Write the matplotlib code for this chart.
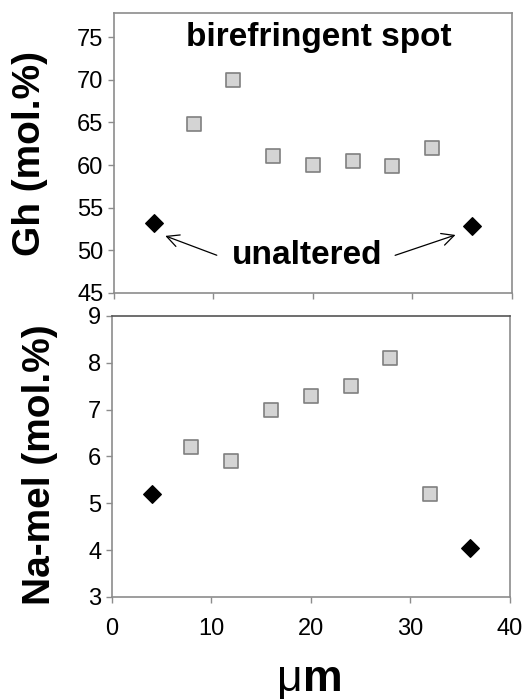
import matplotlib
matplotlib.use('Agg')
import matplotlib.pyplot as plt

plt.rcParams['font.family'] = ['Liberation Sans', 'DejaVu Sans']

# distance along traverse (um)
dist_alt = [8, 12, 16, 20, 24, 28, 32]
dist_unalt = [4, 36]

# Gh content (mol.%)
gh_alt = [64.8, 70.0, 61.0, 60.0, 60.5, 59.9, 62.0]
gh_unalt = [53.2, 52.9]

# Na-melilite content (mol.%)
na_alt = [6.2, 5.9, 7.0, 7.3, 7.5, 8.1, 5.2]
na_unalt = [5.2, 4.05]

fig = plt.figure(figsize=(5.25, 6.99), dpi=100)
ax1 = fig.add_axes([0.217, 0.581, 0.758, 0.400])
ax2 = fig.add_axes([0.213, 0.146, 0.758, 0.402])

for ax in (ax1, ax2):
    for s in ax.spines.values():
        s.set_color('#8c8c8c')
        s.set_linewidth(1.2)
    ax.tick_params(direction='out', length=4, color='#8c8c8c', labelsize=17, width=1)
    ax.set_xlim(0, 40)
    ax.set_xticks([0, 10, 20, 30, 40])

ax2.spines['top'].set_color('#555555')

sq = dict(marker='s', s=95, facecolor='#d4d4d4', edgecolor='#7f7f7f', linewidth=1.2, zorder=3)
dm = dict(marker='D', s=80, facecolor='black', edgecolor='black', zorder=3)

ax1.scatter(dist_alt, gh_alt, **sq)
ax1.scatter(dist_unalt, gh_unalt, **dm)
ax1.set_ylim(45, 77.8)
ax1.set_yticks([45, 50, 55, 60, 65, 70, 75])
ax1.set_xticklabels([])
ax1.set_ylabel('Gh (mol.%)', fontsize=28, fontweight='bold')
ax1.yaxis.set_label_coords(-0.165, 0.5)
ax1.text(20.6, 75.0, 'birefringent spot', ha='center', va='center',
         fontsize=24, fontweight='bold')
ax1.text(19.4, 49.4, 'unaltered', ha='center', va='center',
         fontsize=24, fontweight='bold')
arr = dict(arrowstyle='->', color='black', lw=0.9, mutation_scale=22)
ax1.annotate('', xy=(4.9, 51.8), xytext=(10.6, 49.3), arrowprops=arr)
ax1.annotate('', xy=(34.6, 51.9), xytext=(28.0, 49.3), arrowprops=arr)

ax2.scatter(dist_alt, na_alt, **sq)
ax2.scatter(dist_unalt, na_unalt, **dm)
ax2.set_ylim(3, 9)
ax2.set_yticks([3, 4, 5, 6, 7, 8, 9])
ax2.set_ylabel('Na-mel (mol.%)', fontsize=28, fontweight='bold')
ax2.yaxis.set_label_coords(-0.135, 0.47)
ax2.tick_params(axis='x', pad=11)

# axis unit: light mu, bold m
fig.text(0.577, 0.012, '\u03bc', ha='right', va='baseline', fontsize=32)
fig.text(0.577, 0.012, 'm', ha='left', va='baseline', fontsize=32, fontweight='bold')

fig.savefig('out.png', dpi=100)
